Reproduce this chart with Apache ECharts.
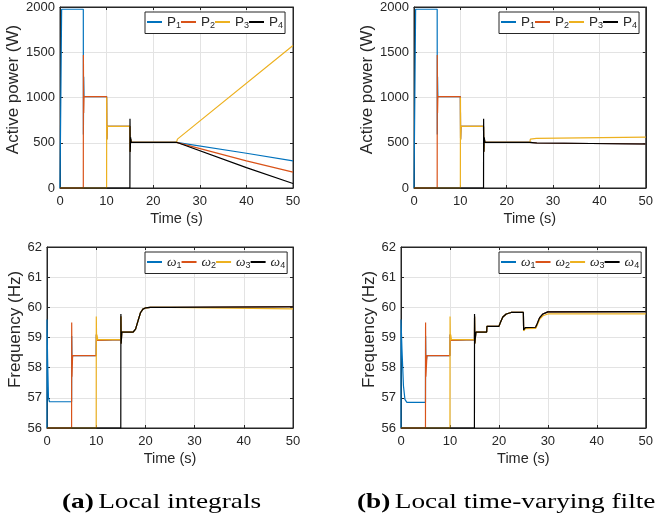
<!DOCTYPE html>
<html>
<head>
<meta charset="utf-8">
<script src="https://cdn.jsdelivr.net/npm/echarts@6/dist/echarts.min.js"></script>
<style>
html,body{margin:0;padding:0;background:#fff;}
#main{width:656px;height:518px;}
</style>
</head>
<body>
<div id="main"></div>
<script>
// colours (matlab default order)
var colors = ['#0072BD', '#D95319', '#EDB120', '#000000'];

// ---- (a) local integrals : active power [t, W]
var pA1 = [[0,0],[0.35,1975],[5,1975],[5.02,590],[5.08,1230],[5.15,1010],[10,1010],[10.05,540],[10.12,680],[15,680],[15.05,400],[15.15,540],[15.3,505],[25,505],[40,384],[50,300]];
var pA2 = [[0,0],[5,0],[5.02,1470],[5.08,830],[5.15,1010],[10,1010],[10.05,540],[10.12,680],[15,680],[15.05,400],[15.15,540],[15.3,505],[25,505],[40,300],[50,175]];
var pA3 = [[0,0],[10,0],[10.02,1000],[10.06,530],[10.15,680],[15,680],[15.05,400],[15.15,540],[15.3,505],[25,505],[25.2,540],[50,1575]];
var pA4 = [[0,0],[15,0],[15.02,765],[15.08,400],[15.15,560],[15.3,505],[25,505],[40,225],[50,50]];

// ---- (b) local time-varying filters : active power
var pB1 = [[0,0],[0.35,1975],[5,1975],[5.02,590],[5.08,1230],[5.15,1010],[10,1010],[10.05,540],[10.12,680],[15,680],[15.05,400],[15.15,540],[15.3,505],[25,505],[25.2,497],[26.5,497],[26.7,486],[50,486]];
var pB2 = [[0,0],[5,0],[5.02,1470],[5.08,830],[5.15,1010],[10,1010],[10.05,540],[10.12,680],[15,680],[15.05,400],[15.15,540],[15.3,505],[25,505],[25.2,497],[26.5,497],[26.7,486],[50,486]];
var pB3 = [[0,0],[10,0],[10.02,1000],[10.06,530],[10.15,680],[15,680],[15.05,400],[15.15,540],[15.3,505],[25,505],[25.1,540],[26.4,548],[26.6,562],[50,562]];
var pB4 = [[0,0],[15,0],[15.02,765],[15.08,400],[15.15,560],[15.3,505],[25,505],[25.2,497],[26.5,497],[26.7,486],[50,486]];

// ---- (a) frequency [t, Hz]
var fA1 = [[0,56],[0,59.6],[0.12,58.3],[0.3,57.0],[0.5,56.87],[5,56.87],[5.02,59.05],[5.08,58.1],[5.2,58.4],[10,58.4],[10.03,59.1],[10.1,58.9],[10.3,58.93],[15,58.93],[15.03,59.7],[15.08,58.8],[15.2,59.18],[17.5,59.18],[18,59.28],[18.5,59.55],[19,59.82],[19.5,59.94],[20,59.98],[21,60.0],[25,60.0],[25.1,60.02],[50,60.02]];
var fA2 = [[0,56],[5,56],[5.02,59.5],[5.08,57.7],[5.2,58.4],[10,58.4],[10.03,59.1],[10.1,58.9],[10.3,58.93],[15,58.93],[15.03,59.7],[15.08,58.8],[15.2,59.18],[17.5,59.18],[18,59.28],[18.5,59.55],[19,59.82],[19.5,59.94],[20,59.98],[21,60.0],[25,60.0],[25.1,60.02],[50,60.02]];
var fA3 = [[0,56],[10,56],[10.02,59.7],[10.08,58.9],[10.15,59.1],[10.3,58.93],[15,58.93],[15.03,59.7],[15.08,58.8],[15.2,59.18],[17.5,59.18],[18,59.28],[18.5,59.55],[19,59.82],[19.5,59.94],[20,59.98],[21,60.0],[25,60.0],[25.1,59.95],[50,59.95]];
var fA4 = [[0,56],[15,56],[15.02,59.78],[15.08,58.8],[15.2,59.18],[17.5,59.18],[18,59.28],[18.5,59.55],[19,59.82],[19.5,59.94],[20,59.98],[21,60.0],[25,60.0],[25.1,60.02],[50,60.02]];

// ---- (b) frequency
var fB1 = [[0,56],[0,59.6],[0.2,58.6],[0.5,57.4],[0.8,56.95],[1.2,56.85],[5,56.85],[5.02,59.05],[5.08,58.1],[5.3,58.4],[10,58.4],[10.03,59.1],[10.1,58.9],[10.3,58.93],[15,58.93],[15.03,59.7],[15.08,58.8],[15.3,59.18],[17.5,59.18],[17.55,59.37],[20,59.37],[20.3,59.5],[20.8,59.68],[21.5,59.78],[22.5,59.83],[25,59.83],[25.05,59.25],[25.4,59.33],[27.5,59.34],[27.8,59.45],[28.3,59.65],[29,59.78],[30,59.85],[50,59.86]];
var fB2 = [[0,56],[5,56],[5.02,59.5],[5.08,57.7],[5.3,58.4],[10,58.4],[10.03,59.1],[10.1,58.9],[10.3,58.93],[15,58.93],[15.03,59.7],[15.08,58.8],[15.3,59.18],[17.5,59.18],[17.55,59.37],[20,59.37],[20.3,59.5],[20.8,59.68],[21.5,59.78],[22.5,59.83],[25,59.83],[25.05,59.25],[25.4,59.33],[27.5,59.34],[27.8,59.45],[28.3,59.65],[29,59.78],[30,59.85],[50,59.86]];
var fB3 = [[0,56],[10,56],[10.02,59.7],[10.08,58.9],[10.15,59.1],[10.3,58.93],[15,58.93],[15.03,59.7],[15.08,58.8],[15.3,59.18],[17.5,59.18],[17.55,59.37],[20,59.37],[20.3,59.5],[20.8,59.68],[21.5,59.78],[22.5,59.83],[25,59.83],[25.05,59.22],[25.4,59.29],[27.5,59.3],[27.8,59.4],[28.3,59.6],[29,59.72],[30,59.78],[50,59.78]];
var fB4 = [[0,56],[15,56],[15.02,59.78],[15.08,58.8],[15.3,59.18],[17.5,59.18],[17.55,59.37],[20,59.37],[20.3,59.5],[20.8,59.68],[21.5,59.78],[22.5,59.83],[25,59.83],[25.05,59.25],[25.4,59.33],[27.5,59.34],[27.8,59.45],[28.3,59.65],[29,59.78],[30,59.85],[50,59.86]];

var powerNames = ['P1', 'P2', 'P3', 'P4'];
var freqNames = ['ω1', 'ω2', 'ω3', 'ω4'];
var xName = 'Time (s)';
var powerName = 'Active power (W)';
var freqName = 'Frequency (Hz)';
var captionA = ['(a)', 'Local integrals'];
var captionB = ['(b)', 'Local time-varying filters'];

var panels = [
	{grid: {left: 60, right: 363, top: 7, height: 181}, ymin: 0, ymax: 2000, yint: 500, yname: powerName, gap: 26, names: powerNames, data: [pA1, pA2, pA3, pA4], tag: 'a', legLeft: 145},
	{grid: {left: 414, right: 9, top: 7, height: 181}, ymin: 0, ymax: 2000, yint: 500, yname: powerName, gap: 27, names: powerNames, data: [pB1, pB2, pB3, pB4], tag: 'b', legLeft: 499},
	{grid: {left: 47, right: 363, top: 247, height: 181}, ymin: 56, ymax: 62, yint: 1, yname: freqName, gap: 17, names: freqNames, data: [fA1, fA2, fA3, fA4], tag: 'c', legLeft: 145},
	{grid: {left: 401, right: 9, top: 247, height: 181}, ymin: 56, ymax: 62, yint: 1, yname: freqName, gap: 17, names: freqNames, data: [fB1, fB2, fB3, fB4], tag: 'd', legLeft: 499}
];

var axisCol = '#262626';
var font = 'Liberation Sans, Arial, sans-serif';
var option = {
	animation: false,
	backgroundColor: '#fff',
	grid: [], xAxis: [], yAxis: [], series: [], legend: [],
	graphic: []
};

panels.forEach(function (p, i) {
	var g = p.grid;
	option.grid.push({left: g.left, right: g.right, top: g.top, height: g.height, show: true, borderColor: axisCol, borderWidth: 1, containLabel: false});
	// bottom / left axes carry labels, top / right only ticks
	option.xAxis.push({
		type: 'value', gridIndex: i, min: 0, max: 50, interval: 10, position: 'bottom',
		name: xName, nameLocation: 'middle', nameGap: 23,
		nameTextStyle: {fontFamily: font, fontSize: 14.5, color: axisCol},
		axisLine: {show: true, onZero: false, lineStyle: {color: axisCol, width: 1}},
		axisTick: {inside: true, length: 3, lineStyle: {color: axisCol}},
		axisLabel: {fontFamily: font, fontSize: 13, color: axisCol, margin: 7},
		splitLine: {show: true, lineStyle: {color: '#e3e3e3', width: 1}}
	});
	option.xAxis.push({
		type: 'value', gridIndex: i, min: 0, max: 50, interval: 10, position: 'top',
		axisLine: {show: true, onZero: false, lineStyle: {color: axisCol, width: 1}},
		axisTick: {inside: true, length: 3, lineStyle: {color: axisCol}},
		axisLabel: {show: false}, splitLine: {show: false}
	});
	option.yAxis.push({
		type: 'value', gridIndex: i, min: p.ymin, max: p.ymax, interval: p.yint, position: 'left',
		name: p.yname, nameLocation: 'middle', nameGap: p.gap,
		nameTextStyle: {fontFamily: font, fontSize: 17, color: axisCol, padding: [0, 0, 0, 16]},
		axisLine: {show: true, onZero: false, lineStyle: {color: axisCol, width: 1}},
		axisTick: {inside: true, length: 3, lineStyle: {color: axisCol}},
		axisLabel: {fontFamily: font, fontSize: 13, color: axisCol, margin: 5, formatter: function (v) { return String(v); }},
		splitLine: {show: true, lineStyle: {color: '#e3e3e3', width: 1}}
	});
	option.yAxis.push({
		type: 'value', gridIndex: i, min: p.ymin, max: p.ymax, interval: p.yint, position: 'right',
		axisLine: {show: true, onZero: false, lineStyle: {color: axisCol, width: 1}},
		axisTick: {inside: true, length: 3, lineStyle: {color: axisCol}},
		axisLabel: {show: false}, splitLine: {show: false}
	});

	var legendData = [];
	p.data.forEach(function (d, k) {
		var nm = p.names[k] + p.tag;
		legendData.push(nm);
		option.series.push({
			name: nm, type: 'line', xAxisIndex: i * 2, yAxisIndex: i * 2,
			data: d, showSymbol: false, symbol: 'none',
			lineStyle: {color: colors[k], width: 1.2}, itemStyle: {color: colors[k]},
			z: 2 + k
		});
	});
	var isW = p.names === freqNames;
	option.legend.push({
		data: legendData,
		left: p.legLeft, top: g.top + 5,
		orient: 'horizontal', icon: 'rect', itemWidth: 15, itemHeight: 2, itemGap: 0,
		padding: [3, 2, 3, 2],
		borderColor: axisCol, borderWidth: 1, backgroundColor: '#fff',
		selectedMode: false,
		formatter: function (name) {
			return '{m|' + name.charAt(0) + '}{s|' + name.charAt(1) + '}';
		},
		textStyle: {
			color: axisCol,
			rich: {
				m: {fontFamily: isW ? 'Liberation Serif' : font, fontStyle: isW ? 'italic' : 'normal', fontSize: 13.5, color: axisCol},
				s: {fontFamily: font, fontSize: 9, color: axisCol, padding: [8, 0, 0, 0]}
			}
		}
	});
});

// captions (computer-modern-like width, so stretched a little)
function caption(parts, x) {
	return {
		type: 'text', x: x, y: 492, scaleX: 1.3,
		style: {
			text: '{b|' + parts[0] + '} {r|' + parts[1] + '}',
			verticalAlign: 'top',
			rich: {
				b: {fontFamily: 'Liberation Serif', fontWeight: 'bold', fontSize: 21, fill: '#000'},
				r: {fontFamily: 'Liberation Serif', fontSize: 21, fill: '#000'}
			}
		}
	};
}
option.graphic.push(caption(captionA, 62));
option.graphic.push(caption(captionB, 357));

var chart = echarts.init(document.getElementById('main'), null, {renderer: 'canvas'});
chart.setOption(option);
</script>
</body>
</html>
